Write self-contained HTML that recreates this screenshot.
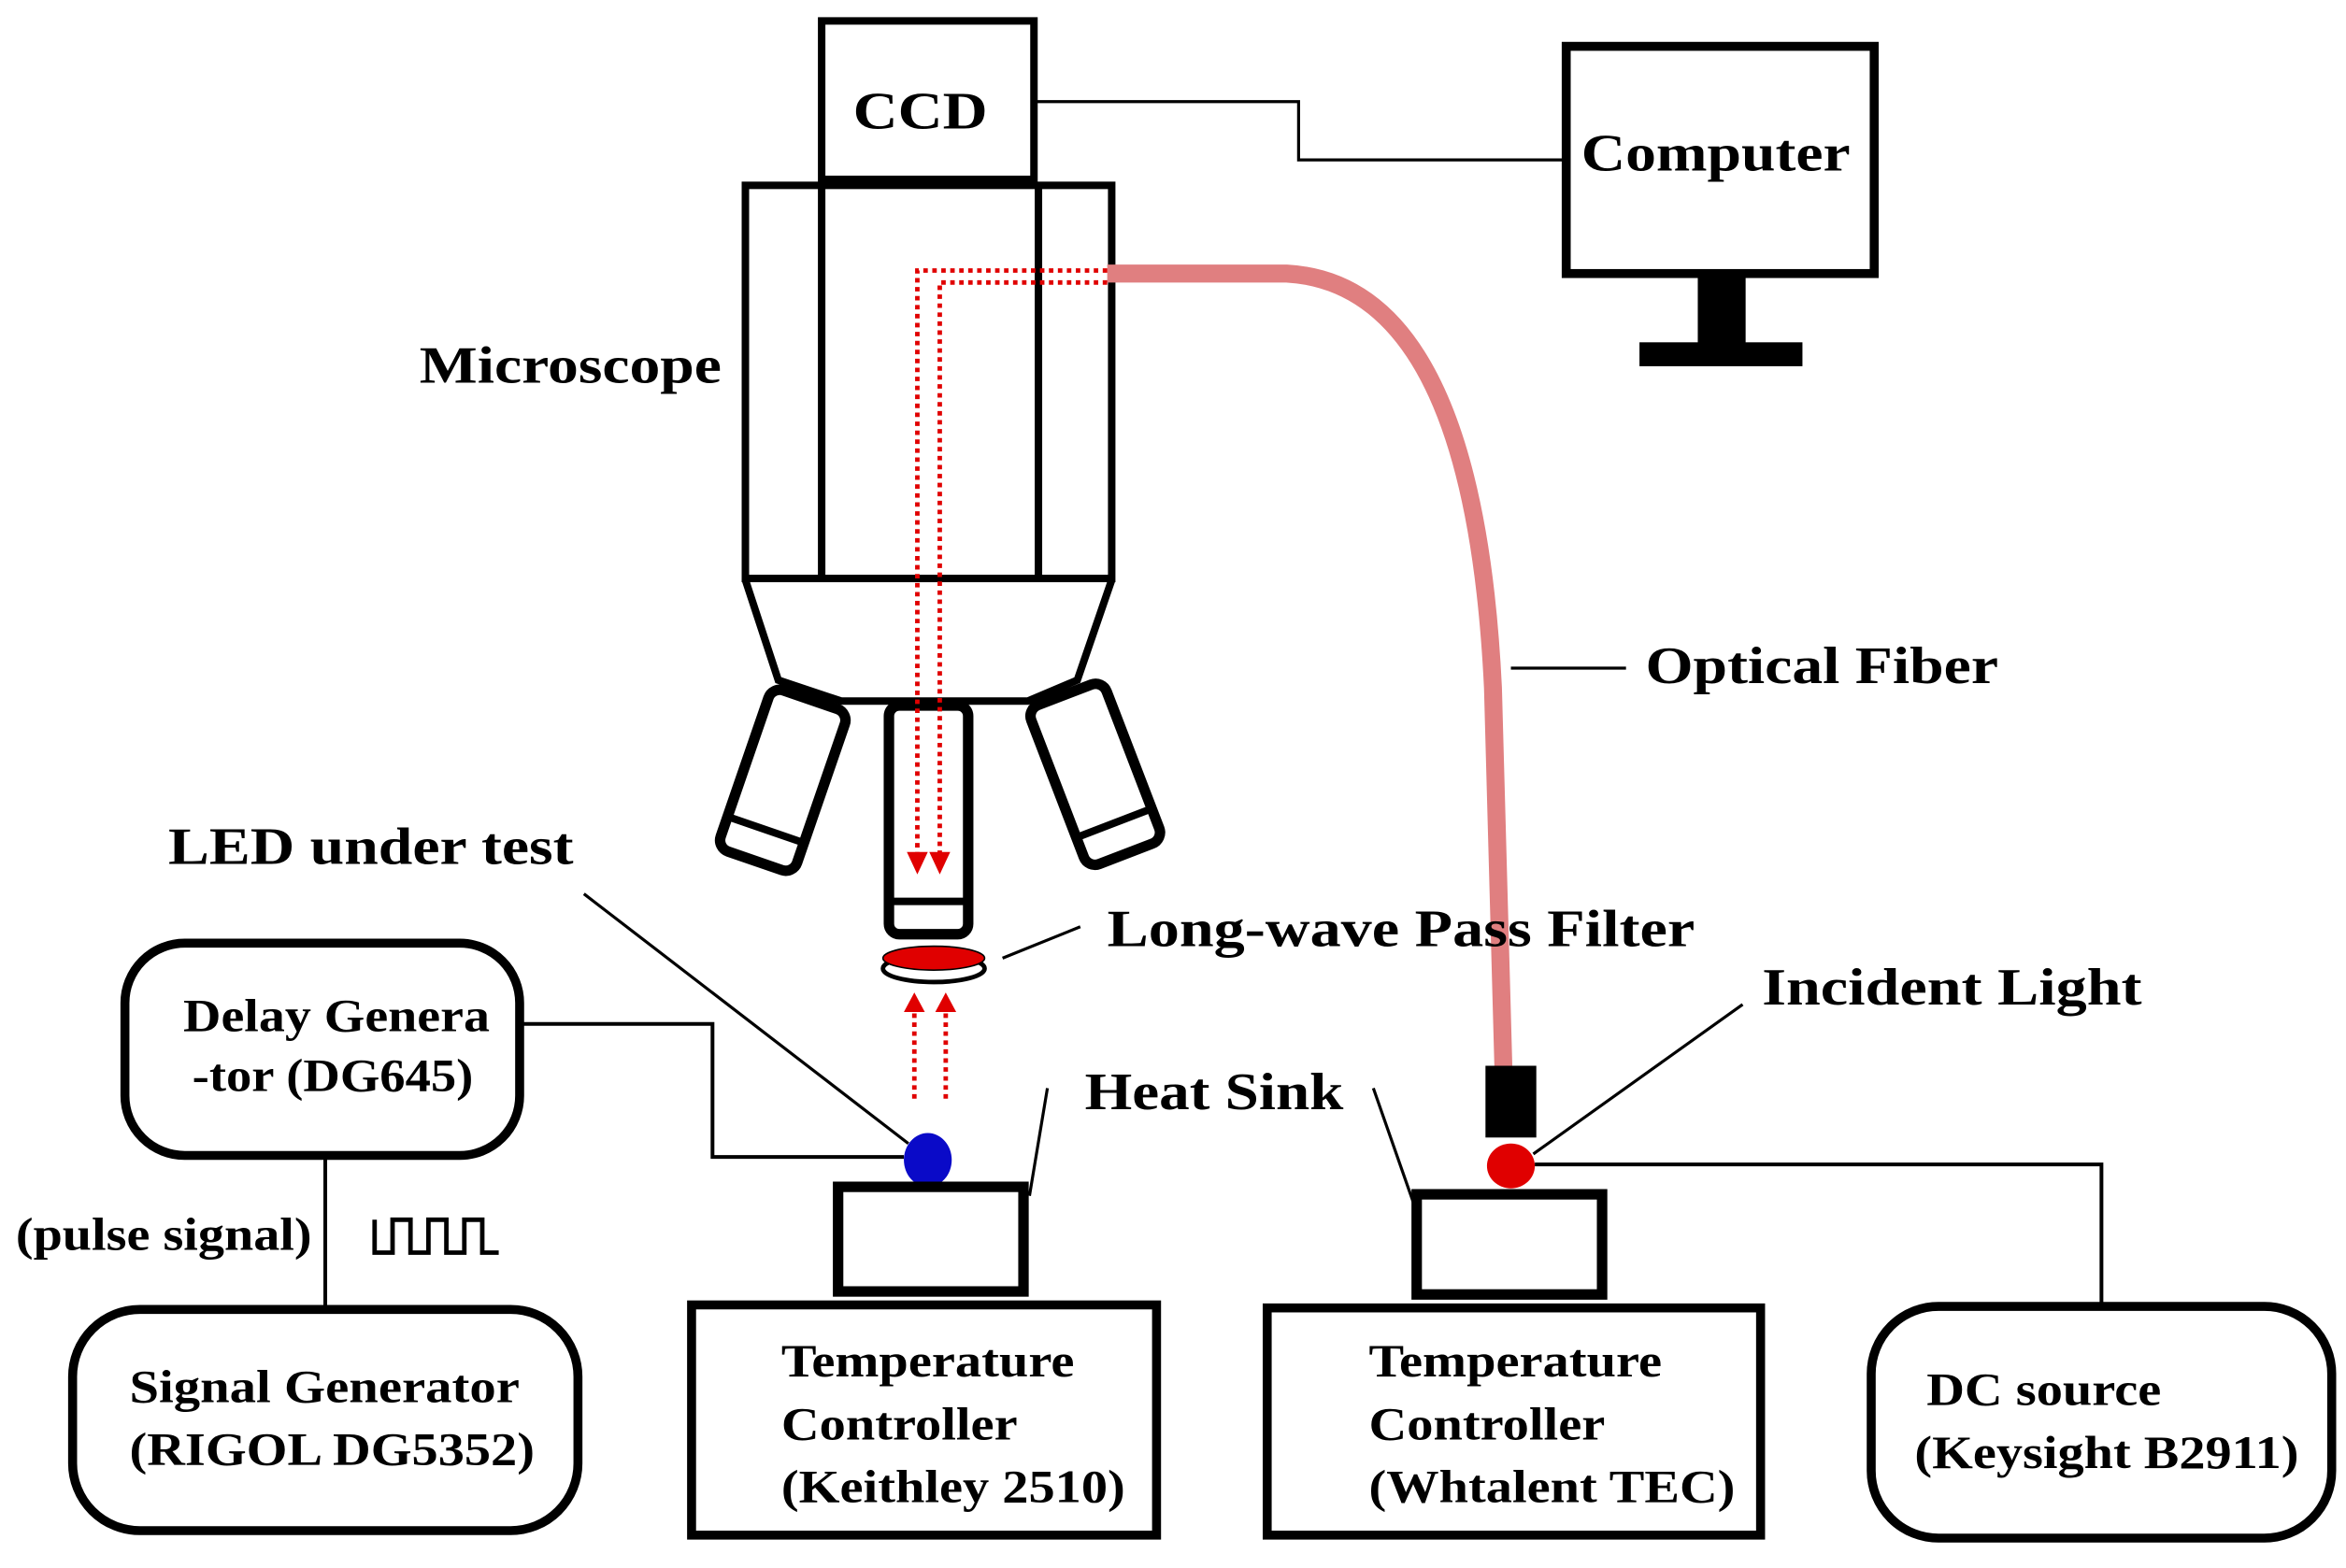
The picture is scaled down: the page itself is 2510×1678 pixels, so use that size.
<!DOCTYPE html>
<html><head><meta charset="utf-8"><style>html,body{margin:0;padding:0;background:#fff}svg{display:block}text{font-family:"Liberation Serif",serif;font-weight:bold;fill:#000}</style></head>
<body>
<svg width="2510" height="1678" viewBox="0 0 1568 1049" xmlns="http://www.w3.org/2000/svg">
<g fill="none" stroke="#000">
<rect x="549" y="14" width="142" height="106" stroke-width="5" fill="#fff"/>
<rect x="498" y="124" width="245" height="263" stroke-width="5"/>
<line x1="549" y1="124" x2="549" y2="387" stroke-width="5"/>
<line x1="694" y1="124" x2="694" y2="387" stroke-width="5"/>
<polyline points="498,388 520,455 562,469 687,469 720,455 743,388" stroke-width="5"/>
<g transform="translate(523,522) rotate(19)"><rect x="-27" y="-57" width="54" height="114" rx="8" stroke-width="7" fill="#fff"/><line x1="-27" y1="35" x2="27" y2="35" stroke-width="5"/></g>
<g transform="translate(732,518) rotate(-21)"><rect x="-27" y="-57" width="54" height="114" rx="8" stroke-width="7" fill="#fff"/><line x1="-27" y1="35" x2="27" y2="35" stroke-width="5"/></g>
<rect x="594" y="472" width="53" height="153" rx="7" stroke-width="7" fill="#fff"/>
<line x1="594" y1="603" x2="647" y2="603" stroke-width="5"/>
<rect x="1047" y="31" width="206" height="152" stroke-width="6"/>
<rect x="1135" y="184" width="32" height="46" fill="#000" stroke="none"/>
<rect x="1096" y="229" width="109" height="16" fill="#000" stroke="none"/>
<polyline points="691,68 868,68 868,107 1048,107" stroke-width="2"/>
<line x1="1010" y1="447" x2="1087" y2="447" stroke-width="2"/>
<line x1="670" y1="641" x2="722" y2="620" stroke-width="2"/>
<line x1="390" y1="598" x2="607" y2="765" stroke-width="2"/>
<polyline points="347,685 476,685 476,774 604,774" stroke-width="2.5"/>
<line x1="217" y1="773" x2="217" y2="875" stroke-width="2.5"/>
<polyline points="250,816 250,838 262,838 262,816 274,816 274,838 286,838 286,816 298,816 298,838 310,838 310,816 322,816 322,838 333,838" stroke-width="3"/>
<line x1="700" y1="728" x2="688" y2="800" stroke-width="2"/>
<line x1="918" y1="728" x2="946" y2="808" stroke-width="2"/>
<line x1="1165" y1="672" x2="1025" y2="772" stroke-width="2"/>
<polyline points="1026,779 1405,779 1405,873" stroke-width="2.5"/>
<path d="M740,183 L860,183 Q985,190 998,460 L1005,715" stroke="#e07f80" stroke-width="12"/>
<polyline points="740,181 613,181 613,572" stroke="#e00000" stroke-width="3" stroke-dasharray="3,3"/>
<polyline points="740,189 628,189 628,572" stroke="#e00000" stroke-width="3" stroke-dasharray="3,3"/>
<line x1="611" y1="735" x2="611" y2="676" stroke="#e00000" stroke-width="3" stroke-dasharray="3,3"/>
<line x1="632" y1="735" x2="632" y2="676" stroke="#e00000" stroke-width="3" stroke-dasharray="3,3"/>
</g>
<polygon points="606,570 620,570 613,585" fill="#e00000"/>
<polygon points="621,570 635,570 628,585" fill="#e00000"/>
<polygon points="604,677 618,677 611,664" fill="#e00000"/>
<polygon points="625,677 639,677 632,664" fill="#e00000"/>
<ellipse cx="624" cy="648" rx="34" ry="9" fill="#fff" stroke="#000" stroke-width="3"/>
<ellipse cx="624" cy="641" rx="34" ry="8" fill="#e00000" stroke="#000" stroke-width="1"/>
<rect x="993" y="713" width="34" height="48" fill="#000"/>
<ellipse cx="1010" cy="780" rx="16" ry="15" fill="#e00000"/>
<ellipse cx="620" cy="776" rx="16" ry="18" fill="#0a0ac8"/>
<g fill="none" stroke="#000">
<rect x="560" y="794" width="124" height="70" stroke-width="7" fill="#fff"/>
<rect x="947" y="799" width="124" height="67" stroke-width="7" fill="#fff"/>
<rect x="462" y="873" width="311" height="154" stroke-width="6"/>
<rect x="847" y="875" width="330" height="152" stroke-width="6"/>
<rect x="1251" y="874" width="308" height="155" rx="45" stroke-width="6"/>
<rect x="48" y="876" width="338" height="148" rx="45" stroke-width="6"/>
<rect x="83" y="631" width="264" height="142" rx="40" stroke-width="6"/>
</g>
<g font-size="35" lengthAdjust="spacingAndGlyphs">
<text x="570" y="86" textLength="90" lengthAdjust="spacingAndGlyphs">CCD</text>
<text x="1057" y="114" textLength="180" lengthAdjust="spacingAndGlyphs">Computer</text>
<text x="280" y="256" textLength="202" lengthAdjust="spacingAndGlyphs">Microscope</text>
<text x="1100" y="457" textLength="236" lengthAdjust="spacingAndGlyphs">Optical Fiber</text>
<text x="112" y="578" textLength="271" lengthAdjust="spacingAndGlyphs">LED under test</text>
<text x="740" y="633" textLength="393" lengthAdjust="spacingAndGlyphs">Long-wave Pass Filter</text>
<text x="1178" y="672" textLength="254" lengthAdjust="spacingAndGlyphs">Incident Light</text>
<text x="725" y="742" textLength="173" lengthAdjust="spacingAndGlyphs">Heat Sink</text>
</g>
<g font-size="31">
<text x="122" y="690" textLength="205" lengthAdjust="spacingAndGlyphs">Delay Genera</text>
<text x="128" y="730" textLength="188" lengthAdjust="spacingAndGlyphs">-tor (DG645)</text>
<text x="10" y="836" textLength="198" lengthAdjust="spacingAndGlyphs">(pulse signal)</text>
<text x="86" y="938" textLength="261" lengthAdjust="spacingAndGlyphs">Signal Generator</text>
<text x="86" y="980" textLength="271" lengthAdjust="spacingAndGlyphs">(RIGOL DG5352)</text>
<text x="522" y="921" textLength="196" lengthAdjust="spacingAndGlyphs">Temperature</text>
<text x="522" y="963" textLength="158" lengthAdjust="spacingAndGlyphs">Controller</text>
<text x="522" y="1005" textLength="230" lengthAdjust="spacingAndGlyphs">(Keithley 2510)</text>
<text x="915" y="921" textLength="196" lengthAdjust="spacingAndGlyphs">Temperature</text>
<text x="915" y="963" textLength="158" lengthAdjust="spacingAndGlyphs">Controller</text>
<text x="915" y="1005" textLength="245" lengthAdjust="spacingAndGlyphs">(Whtalent TEC)</text>
<text x="1288" y="940" textLength="157" lengthAdjust="spacingAndGlyphs">DC source</text>
<text x="1280" y="982" textLength="257" lengthAdjust="spacingAndGlyphs">(Keysight B2911)</text>
</g>
</svg>
</body></html>
